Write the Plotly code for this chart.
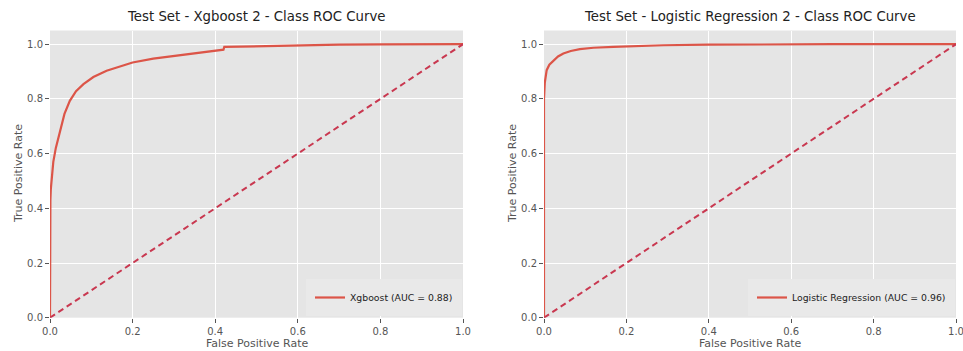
import plotly.graph_objects as go

W, H = 963, 351

# Xgboost ROC curve
xgb_fpr = [0.0, 0.0, 0.001, 0.002, 0.004, 0.008, 0.014, 0.024, 0.035, 0.048, 0.063, 0.081, 0.105,
           0.137, 0.17, 0.2, 0.25, 0.3, 0.35, 0.41, 0.42, 0.422, 0.5, 0.6, 0.7, 0.8, 0.9, 1.0]
xgb_tpr = [0.0, 0.36, 0.43, 0.47, 0.514, 0.57, 0.62, 0.684, 0.745, 0.793, 0.828, 0.854, 0.88,
           0.903, 0.92, 0.933, 0.947, 0.957, 0.966, 0.977, 0.98, 0.99, 0.993, 0.996, 0.998, 0.999, 1.0, 1.0]

# Logistic Regression ROC curve
lr_fpr = [0.0, 0.0, 0.002, 0.0065, 0.013, 0.023, 0.034, 0.047, 0.065, 0.087, 0.12, 0.168, 0.22,
          0.29, 0.4, 0.5, 0.7, 1.0]
lr_tpr = [0.0, 0.80, 0.86, 0.905, 0.925, 0.94, 0.955, 0.966, 0.975, 0.982, 0.987, 0.99, 0.993,
          0.996, 0.998, 0.999, 1.0, 1.0]

chance = [0.0, 1.0]
tick_vals = [0.0, 0.2, 0.4, 0.6, 0.8, 1.0]
tick_text = ["0.0", "0.2", "0.4", "0.6", "0.8", "1.0"]

titles = ["Test Set - Xgboost 2 - Class ROC Curve",
          "Test Set - Logistic Regression 2 - Class ROC Curve"]
names = ["Xgboost (AUC = 0.88)", "Logistic Regression (AUC = 0.96)"]

CURVE = "#DC5548"
DASH = "#c93850"
BG = "#E5E5E5"
TXT = "#555555"
FONT = "DejaVu Sans"

# pixel geometry
left_px = [(50, 463), (544, 956)]
top_px, bot_px = 30.5, 317.7

fig = go.Figure()

for i, (fx, fy) in enumerate([(xgb_fpr, xgb_tpr), (lr_fpr, lr_tpr)]):
    xa = "x" if i == 0 else "x2"
    ya = "y" if i == 0 else "y2"
    lg = "legend" if i == 0 else "legend2"
    fig.add_trace(go.Scatter(x=fx, y=fy, mode="lines", name=names[i],
                             line=dict(color=CURVE, width=2.2), xaxis=xa, yaxis=ya,
                             legend=lg))
    fig.add_trace(go.Scatter(x=chance, y=chance, mode="lines", showlegend=False,
                             line=dict(color=DASH, width=2, dash="6px,4px"), xaxis=xa, yaxis=ya))

axis_common = dict(showgrid=True, gridcolor="white", gridwidth=1, zeroline=False,
                   showline=False, ticks="outside", ticklen=4, tickcolor=TXT,
                   tickfont=dict(family=FONT, size=10, color=TXT),
                   tickvals=tick_vals, ticktext=tick_text, automargin=False,
                   ticklabeloverflow="allow")

for i, (l, r) in enumerate(left_px):
    sfx = "" if i == 0 else "2"
    dom_x = [l / W, r / W]
    dom_y = [1 - bot_px / H, 1 - top_px / H]
    fig.layout["xaxis" + sfx] = dict(axis_common, domain=dom_x, range=[0, 1],
                                     anchor="y" + sfx)
    fig.layout["yaxis" + sfx] = dict(axis_common, domain=dom_y, range=[0, 1.05],
                                     anchor="x" + sfx)
    cx = (l + r) / 2 / W
    fig.add_annotation(text=titles[i], x=cx, y=1 - 17 / H, xref="paper", yref="paper",
                       xanchor="center", yanchor="middle", showarrow=False,
                       font=dict(family=FONT, size=13.3, color="#222222"))
    fig.add_annotation(text="False Positive Rate", x=cx, y=1 - 343 / H, xref="paper",
                       yref="paper", xanchor="center", yanchor="middle", showarrow=False,
                       font=dict(family=FONT, size=11, color=TXT))
    fig.add_annotation(text="True Positive Rate", x=(l - 32) / W, y=1 - 174 / H,
                       xref="paper", yref="paper", xanchor="center", yanchor="middle",
                       showarrow=False, textangle=-90,
                       font=dict(family=FONT, size=11, color=TXT))

legend_common = dict(bgcolor="#E9E9E9", bordercolor="#E9E9E9", borderwidth=4,
                     font=dict(family=FONT, size=9.3, color="#222222"),
                     xanchor="right", yanchor="bottom", itemwidth=30)
fig.update_layout(
    template="none",
    width=W, height=H, margin=dict(l=0, r=0, t=0, b=0, autoexpand=False),
    paper_bgcolor="white", plot_bgcolor=BG,
    legend=dict(legend_common, xref="paper", yref="paper",
                x=(463 - 1) / W, y=1 - 316 / H),
    legend2=dict(legend_common, xref="paper", yref="paper",
                 x=(956 - 1) / W, y=1 - 316 / H),
    showlegend=True,
)

fig.write_html("out.html", config={"displayModeBar": False},
               post_script="document.body.style.margin='0';")
